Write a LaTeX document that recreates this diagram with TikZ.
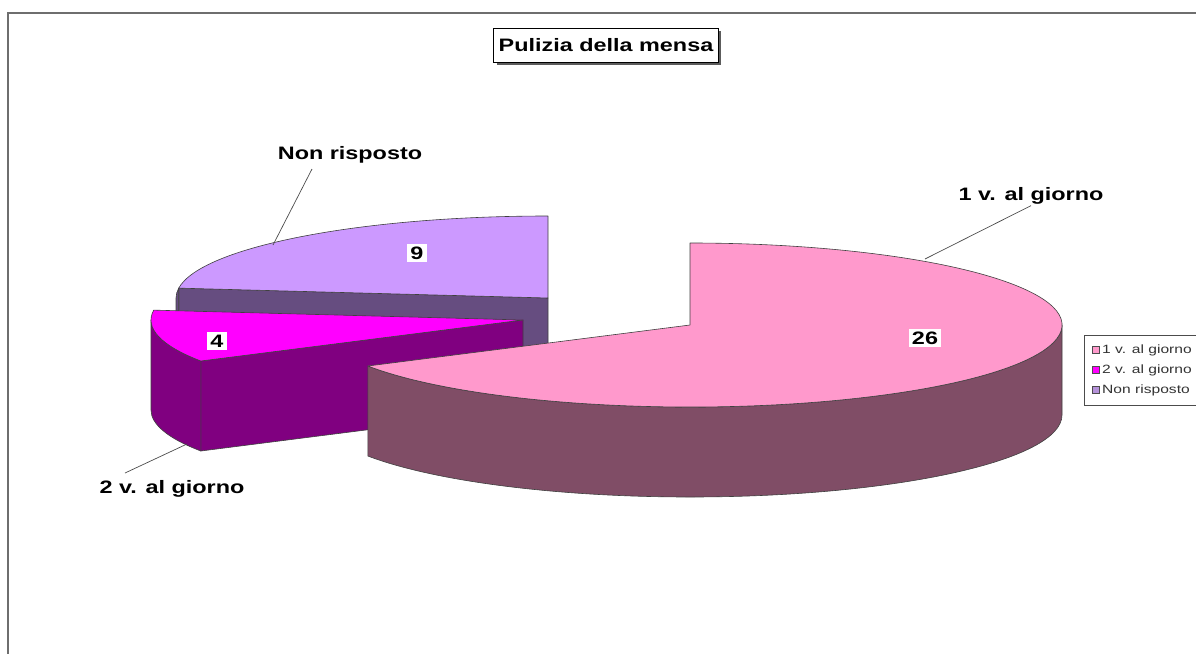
\documentclass[tikz,border=0pt]{standalone}
\usepackage{fontspec}
\newfontfamily\chartfont[FakeStretch=1.3]{Liberation Sans}
\usetikzlibrary{calc,shadows}
\definecolor{pinkT}{RGB}{255,153,204}
\definecolor{pinkS}{RGB}{128,77,102}
\definecolor{magT}{RGB}{255,0,255}
\definecolor{magS}{RGB}{128,0,128}
\definecolor{purT}{RGB}{204,153,255}
\definecolor{purS}{RGB}{102,77,128}
\definecolor{frameC}{RGB}{110,110,110}
\begin{document}
\begin{tikzpicture}[x=1pt,y=-1pt,
  edge/.style={draw=black!75,line width=0.6pt,line join=round},
  el/.style={x radius=372pt,y radius=82pt},
  lbl/.style={font=\chartfont\bfseries\fontsize{18}{20}\selectfont,inner sep=1pt},
  val/.style={lbl,fill=white,inner sep=3pt},
  leader/.style={draw=black!70,line width=0.7pt},
  legtxt/.style={font=\chartfont\fontsize{12}{14}\selectfont,anchor=west,inner sep=0pt,text=black!80},
  legsq/.style={draw=black!70,line width=0.5pt,minimum size=7pt,inner sep=0pt},
  titlebox/.style={draw=black,line width=0.8pt,fill=white,font=\chartfont\bfseries\fontsize{18}{20}\selectfont,
    inner xsep=5pt,minimum height=34pt,
    drop shadow={shadow xshift=3pt,shadow yshift=-3pt,opacity=0.85,fill=black!75}}
]
\useasboundingbox (0,0) rectangle (1196,653);
\clip (0,0) rectangle (1196,653);
\fill[white] (0,0) rectangle (1196,653);
% outer frame
\draw[frameC,line width=2pt] (1200,13) -- (8,13) -- (8,660);

% title
\node[titlebox] (title) at (606,45) {Pulizia della mensa};

% centres of the three slices
\coordinate (Q) at (548,298);
\coordinate (Qd) at (548,388);
\coordinate (M) at (523,320);
\coordinate (Md) at (523,410);
\coordinate (P) at (690,325);
\path (Q) ++(90:372pt and 82pt) coordinate (Q90);
\path (Q) ++(173.08:372pt and 82pt) coordinate (Q173);
\path (M) ++(173.08:372pt and 82pt) coordinate (M173);
\path (M) ++(180:372pt and 82pt) coordinate (M180);
\path (M) ++(210:372pt and 82pt) coordinate (M210);
\path (P) ++(210:372pt and 82pt) coordinate (P210);

% ---- Non risposto (back) ----
\filldraw[edge,fill=purS] (Q) -- (Q173) -- ++(0,90) -- (Qd) -- cycle;
\filldraw[edge,fill=purS] (Q173) arc[el,start angle=173.08,end angle=180] -- ++(0,90)
   arc[el,start angle=180,end angle=173.08] -- cycle;
\filldraw[edge,fill=purT] (Q) -- (Q90) arc[el,start angle=90,end angle=173.08] -- cycle;

% ---- 2 v. al giorno ----
\filldraw[edge,fill=magS] (M) -- (M210) -- ++(0,90) -- (Md) -- cycle;
\filldraw[edge,fill=magS] (M180) arc[el,start angle=180,end angle=210] -- ++(0,90)
   arc[el,start angle=210,end angle=180] -- cycle;
\filldraw[edge,fill=magT] (M) -- (M173) arc[el,start angle=173.08,end angle=210] -- cycle;

% ---- 1 v. al giorno (front) ----
\filldraw[edge,fill=pinkS] (P210) arc[el,start angle=210,end angle=360] -- ++(0,90)
   arc[el,start angle=360,end angle=210] -- cycle;
\filldraw[edge,fill=pinkT] (P) -- (P210) arc[el,start angle=210,end angle=450] -- cycle;

% value labels
\node[val] (v26) at (925,338) {26};
\node[val] (v9) at (417,253) {9};
\node[val] (v4) at (217,341) {4};

% category labels and leaders
\node[lbl] (c1) at (1031,196) {1 v. al giorno};
\node[lbl] (c3) at (350,155) {Non risposto};
\node[lbl] (c2) at (172,489) {2 v. al giorno};
\coordinate (c1pt) at (925,259);
\coordinate (c3top) at (312,169);
\coordinate (c3pt) at (273,245);
\coordinate (c2top) at (125,473);
\coordinate (c2pt) at (187,444);
\draw[leader] (c1.south) -- (c1pt);
\draw[leader] (c3top) -- (c3pt);
\draw[leader] (c2top) -- (c2pt);

% legend
\draw[draw=black!70,line width=0.8pt,fill=white] (1084,335) rectangle (1205,405);
\node[legsq,fill=pinkT] (s1) at (1096,350) {};
\node[legsq,fill=magT] (s2) at (1096,370) {};
\node[legsq,fill=purT!70!gray] (s3) at (1096,390) {};
\node[legtxt] (t1) at (1102,350) {1 v. al giorno};
\node[legtxt] (t2) at (1102,370) {2 v. al giorno};
\node[legtxt] (t3) at (1102,390) {Non risposto};
\end{tikzpicture}
\end{document}
